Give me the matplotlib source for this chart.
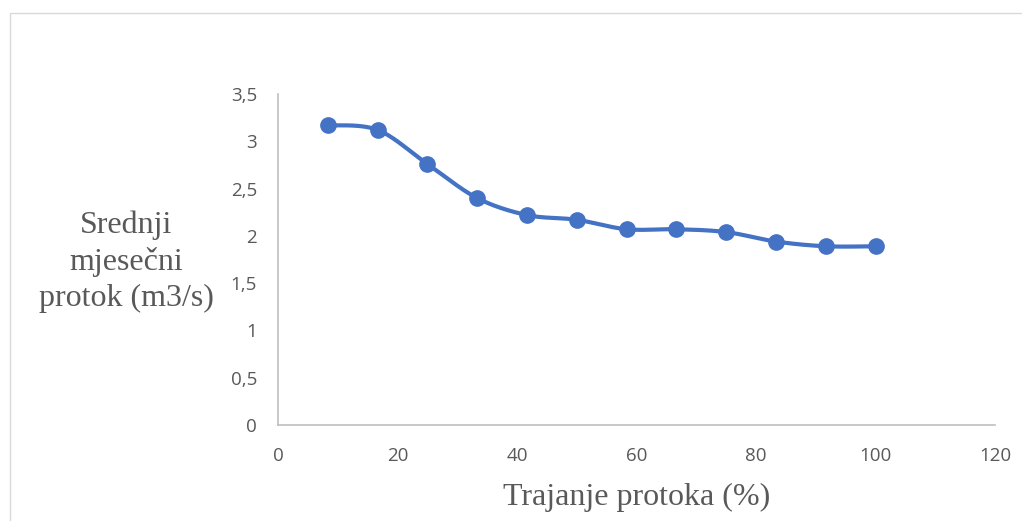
import numpy as np
import matplotlib.pyplot as plt
from matplotlib.patches import Rectangle

# podaci
trajanje = [8.33, 16.67, 25.0, 33.33, 41.67, 50.0, 58.33, 66.67, 75.0, 83.33, 91.67, 100.0]
protok = [3.17, 3.12, 2.76, 2.40, 2.22, 2.17, 2.07, 2.07, 2.04, 1.94, 1.89, 1.89]
y_ticks = [0, 0.5, 1, 1.5, 2, 2.5, 3, 3.5]
y_tick_labels = ["0", "0,5", "1", "1,5", "2", "2,5", "3", "3,5"]
x_ticks = [0, 20, 40, 60, 80, 100, 120]


def smooth(x, y, n=30):
    # glatka linija kao u Excelu (Catmull-Rom / Bezier)
    x = np.asarray(x, float)
    y = np.asarray(y, float)
    px = np.concatenate([[x[0]], x, [x[-1]]])
    py = np.concatenate([[y[0]], y, [y[-1]]])
    xs, ys = [], []
    t = np.linspace(0, 1, n)
    for i in range(1, len(px) - 2):
        p0 = np.array([px[i], py[i]])
        p3 = np.array([px[i + 1], py[i + 1]])
        p1 = p0 + (np.array([px[i + 1], py[i + 1]]) - np.array([px[i - 1], py[i - 1]])) / 6
        p2 = p3 - (np.array([px[i + 2], py[i + 2]]) - np.array([px[i], py[i]])) / 6
        b = ((1 - t) ** 3)[:, None] * p0 + (3 * (1 - t) ** 2 * t)[:, None] * p1 \
            + (3 * (1 - t) * t ** 2)[:, None] * p2 + (t ** 3)[:, None] * p3
        xs.extend(b[:, 0])
        ys.extend(b[:, 1])
    return xs, ys


fig = plt.figure(figsize=(10.22, 5.21), dpi=100)
fig.patches.append(Rectangle((10 / 1022, -0.1), 1.2, 1 - 13 / 521 + 0.1,
                             transform=fig.transFigure, fill=False,
                             edgecolor='#d9d9d9', linewidth=1))
ax = fig.add_axes([278 / 1022, 1 - 425 / 521, (995 - 278) / 1022, (425 - 94) / 521])

sx, sy = smooth(trajanje, protok)
ax.plot(sx, sy, color='#4472C4', linewidth=3, solid_capstyle='round', zorder=2)
ax.plot(trajanje, protok, linestyle='none', marker='o', markersize=11,
        color='#4472C4', zorder=3)

ax.set_xlim(0, 120)
ax.set_ylim(0, 3.5)
ax.set_xticks(x_ticks)
ax.set_yticks(y_ticks)
ax.set_yticklabels(y_tick_labels)
for s in ['top', 'right']:
    ax.spines[s].set_visible(False)
for s in ['left', 'bottom']:
    ax.spines[s].set_color('#bfbfbf')
    ax.spines[s].set_linewidth(1.2)
ax.tick_params(length=0, labelsize=13.5, colors='#595959', pad=15)
ax.tick_params(axis='x', pad=16)
for lab in ax.get_xticklabels() + ax.get_yticklabels():
    lab.set_family('Open Sans')

fig.text(637 / 1022, 1 - 497 / 521, "Trajanje protoka (%)", ha='center', va='center',
         family='Liberation Serif', fontsize=23, color='#595959')
fig.text(126 / 1022, 1 - 262 / 521, "Srednji\nmjesečni\nprotok (m3/s)", ha='center',
         va='center', family='Liberation Serif', fontsize=23, color='#595959',
         linespacing=1.3)

fig.savefig('out.png', dpi=100)
